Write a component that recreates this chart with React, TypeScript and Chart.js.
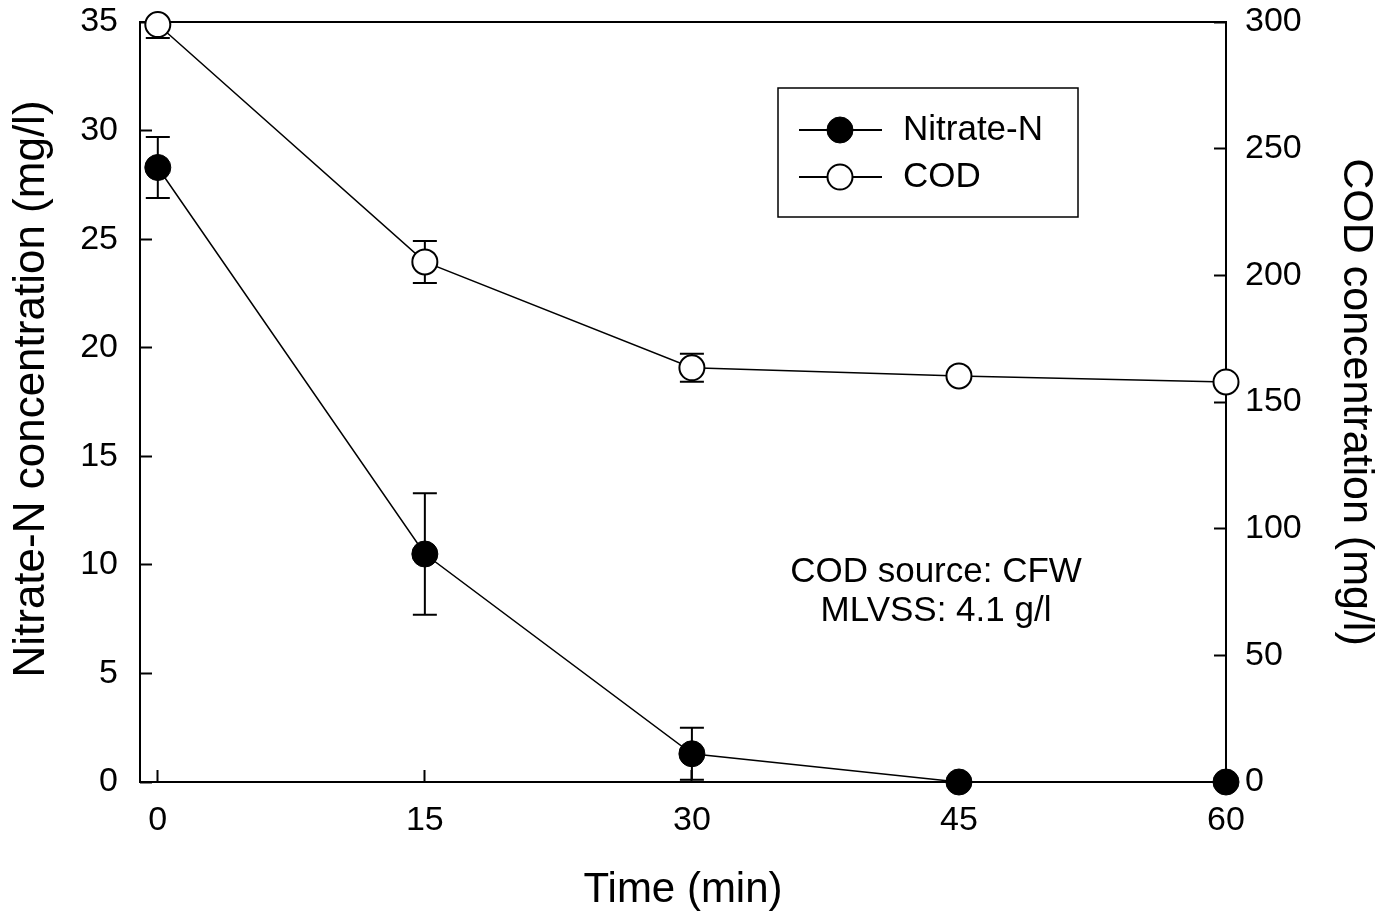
import React, { useEffect, useRef } from "react";
import { Chart, registerables } from "chart.js";

Chart.register(...registerables);

// ---- data ----
const timeMin = [0, 15, 30, 45, 60];
const nitrateN = [28.3, 10.5, 1.3, 0, 0];
const nitrateErr = [1.4, 2.8, 1.2, 0, 0];
const cod = [299, 205.3, 163.5, 160.3, 157.9];
const codErr = [5.3, 8.3, 5.5, 1.5, 1.5];
const xTicks = [0, 15, 30, 45, 60];
const leftTicks = [0, 5, 10, 15, 20, 25, 30, 35];
const rightTicks = [0, 50, 100, 150, 200, 250, 300];
const seriesLabels = ["Nitrate-N", "COD"];
const noteLines = ["COD source: CFW", "MLVSS: 4.1 g/l"];
const xTitle = "Time (min)";
const yTitle = "Nitrate-N concentration (mg/l)";
const y2Title = "COD concentration (mg/l)";

const FONT = "'Liberation Sans', Arial, Helvetica, sans-serif";

const framePlugin = {
  id: "frame",
  beforeDatasetsDraw(chart: any) {
    const { ctx, chartArea: a } = chart;
    ctx.save();
    ctx.strokeStyle = "#000";
    ctx.lineWidth = 2;
    ctx.strokeRect(a.left, a.top, a.right - a.left, a.bottom - a.top);
    ctx.restore();
  },
};

const errorBarPlugin = {
  id: "errorBars",
  beforeDatasetsDraw(chart: any) {
    const { ctx, chartArea: a } = chart;
    ctx.save();
    ctx.beginPath();
    ctx.rect(a.left, a.top, a.right - a.left, a.bottom - a.top);
    ctx.clip();
    ctx.strokeStyle = "#000";
    ctx.lineWidth = 2;
    chart.data.datasets.forEach((ds: any) => {
      const errs: number[] = ds.errorBars || [];
      const xs = chart.scales.x;
      const ys = chart.scales[ds.yAxisID];
      ds.data.forEach((p: any, i: number) => {
        const e = errs[i];
        if (!e) return;
        const px = xs.getPixelForValue(p.x);
        const top = ys.getPixelForValue(p.y + e);
        const bot = ys.getPixelForValue(p.y - e);
        const cap = 12;
        ctx.beginPath();
        ctx.moveTo(px, top);
        ctx.lineTo(px, bot);
        ctx.moveTo(px - cap, top);
        ctx.lineTo(px + cap, top);
        ctx.moveTo(px - cap, bot);
        ctx.lineTo(px + cap, bot);
        ctx.stroke();
      });
    });
    ctx.restore();
  },
};

const leftTitlePlugin = {
  id: "leftTitle",
  afterDraw(chart: any) {
    const { ctx } = chart;
    ctx.save();
    ctx.translate(31.5, 389);
    ctx.rotate(-Math.PI / 2);
    ctx.font = `44px ${FONT}`;
    ctx.fillStyle = "#000";
    ctx.textAlign = "center";
    ctx.textBaseline = "middle";
    ctx.fillText(yTitle, 0, 0);
    ctx.restore();
  },
};

const legendNotePlugin = {
  id: "legendNote",
  afterDatasetsDraw(chart: any) {
    const { ctx, chartArea: a } = chart;
    ctx.save();
    // legend box
    const bx = 778, by = 88, bw = 300, bh = 129;
    ctx.strokeStyle = "#000";
    ctx.lineWidth = 1.5;
    ctx.strokeRect(bx, by, bw, bh);
    const rows = [130, 177];
    chart.data.datasets.forEach((ds: any, i: number) => {
      const y = rows[i];
      ctx.beginPath();
      ctx.lineWidth = 2;
      ctx.strokeStyle = "#000";
      ctx.moveTo(799, y);
      ctx.lineTo(882, y);
      ctx.stroke();
      ctx.beginPath();
      ctx.arc(840, y, ds.pointRadius, 0, Math.PI * 2);
      ctx.fillStyle = ds.pointBackgroundColor;
      ctx.fill();
      ctx.lineWidth = ds.pointBorderWidth;
      ctx.stroke();
      ctx.fillStyle = "#000";
      ctx.font = `35px ${FONT}`;
      ctx.textAlign = "left";
      ctx.textBaseline = "middle";
      ctx.fillText(ds.label, 903, y);
    });
    // note
    ctx.font = `35px ${FONT}`;
    ctx.textAlign = "center";
    ctx.textBaseline = "alphabetic";
    ctx.fillStyle = "#000";
    const cx = a.left + (a.right - a.left) * 0.733;
    noteLines.forEach((t, i) => ctx.fillText(t, cx, 582 + i * 38.5));
    ctx.restore();
  },
};

function fixFit(size: number, horizontal: boolean) {
  return (s: any) => {
    if (horizontal) s.height = size;
    else s.width = size;
    s.paddingTop = 0;
    s.paddingBottom = 0;
    s.paddingLeft = 0;
    s.paddingRight = 0;
  };
}

export default function App() {
  const ref = useRef<HTMLCanvasElement | null>(null);
  useEffect(() => {
    document.body.style.margin = "0";
    if (!ref.current) return;
    Chart.defaults.font.family = FONT;
    Chart.defaults.color = "#000";
    const tickGrid = {
      drawOnChartArea: false,
      drawTicks: true,
      tickLength: -12,
      color: "#000",
      tickWidth: 2,
    };
    const chart = new Chart(ref.current, {
      type: "line",
      data: {
        datasets: [
          {
            label: seriesLabels[0],
            data: timeMin.map((t, i) => ({ x: t, y: nitrateN[i] })),
            yAxisID: "y",
            borderColor: "#000",
            borderWidth: 1.5,
            pointRadius: 13,
            pointBackgroundColor: "#000",
            pointBorderColor: "#000",
            pointBorderWidth: 1,
            clip: false,
            errorBars: nitrateErr,
          } as any,
          {
            label: seriesLabels[1],
            data: timeMin.map((t, i) => ({ x: t, y: cod[i] })),
            yAxisID: "y2",
            borderColor: "#000",
            borderWidth: 1.5,
            pointRadius: 12.5,
            pointBackgroundColor: "#fff",
            pointBorderColor: "#000",
            pointBorderWidth: 2,
            clip: false,
            errorBars: codErr,
          } as any,
        ],
      },
      options: {
        animation: false,
        responsive: false,
        layout: { padding: { top: 22, left: 0, right: 0, bottom: 0 } },
        plugins: { legend: { display: false }, tooltip: { enabled: false } },
        scales: {
          x: {
            type: "linear",
            position: "bottom",
            min: -1,
            max: 60,
            afterBuildTicks: (s: any) => {
              s.ticks = xTicks.map((v) => ({ value: v }));
            },
            afterFit: fixFit(134, true),
            grid: tickGrid,
            border: { display: false },
            ticks: { font: { size: 34 }, padding: 30, maxRotation: 0, autoSkip: false, callback: (v: any) => String(v) },
            title: { display: true, text: xTitle, font: { size: 42 }, padding: { top: 0, bottom: 0 } },
          },
          y: {
            type: "linear",
            position: "left",
            min: 0,
            max: 35,
            afterBuildTicks: (s: any) => {
              s.ticks = leftTicks.map((v) => ({ value: v }));
            },
            afterFit: fixFit(140, false),
            grid: tickGrid,
            border: { display: false },
            ticks: { font: { size: 34 }, padding: 34, autoSkip: false, callback: (v: any) => String(v) },
            title: { display: false, text: yTitle },
          },
          y2: {
            type: "linear",
            position: "right",
            min: 0,
            max: 300,
            afterBuildTicks: (s: any) => {
              s.ticks = rightTicks.map((v) => ({ value: v }));
            },
            afterFit: fixFit(156, false),
            grid: tickGrid,
            border: { display: false },
            ticks: { font: { size: 34 }, padding: 31, autoSkip: false, callback: (v: any) => String(v) },
            title: { display: true, text: y2Title, font: { size: 43 }, padding: { top: 0, bottom: 0 } },
          },
        },
      },
      plugins: [framePlugin, errorBarPlugin, legendNotePlugin, leftTitlePlugin],
    } as any);
    return () => chart.destroy();
  }, []);
  return (
    <div style={{ width: 1382, height: 916 }}>
      <canvas ref={ref} width={1382} height={916} style={{ display: "block" }} />
    </div>
  );
}
